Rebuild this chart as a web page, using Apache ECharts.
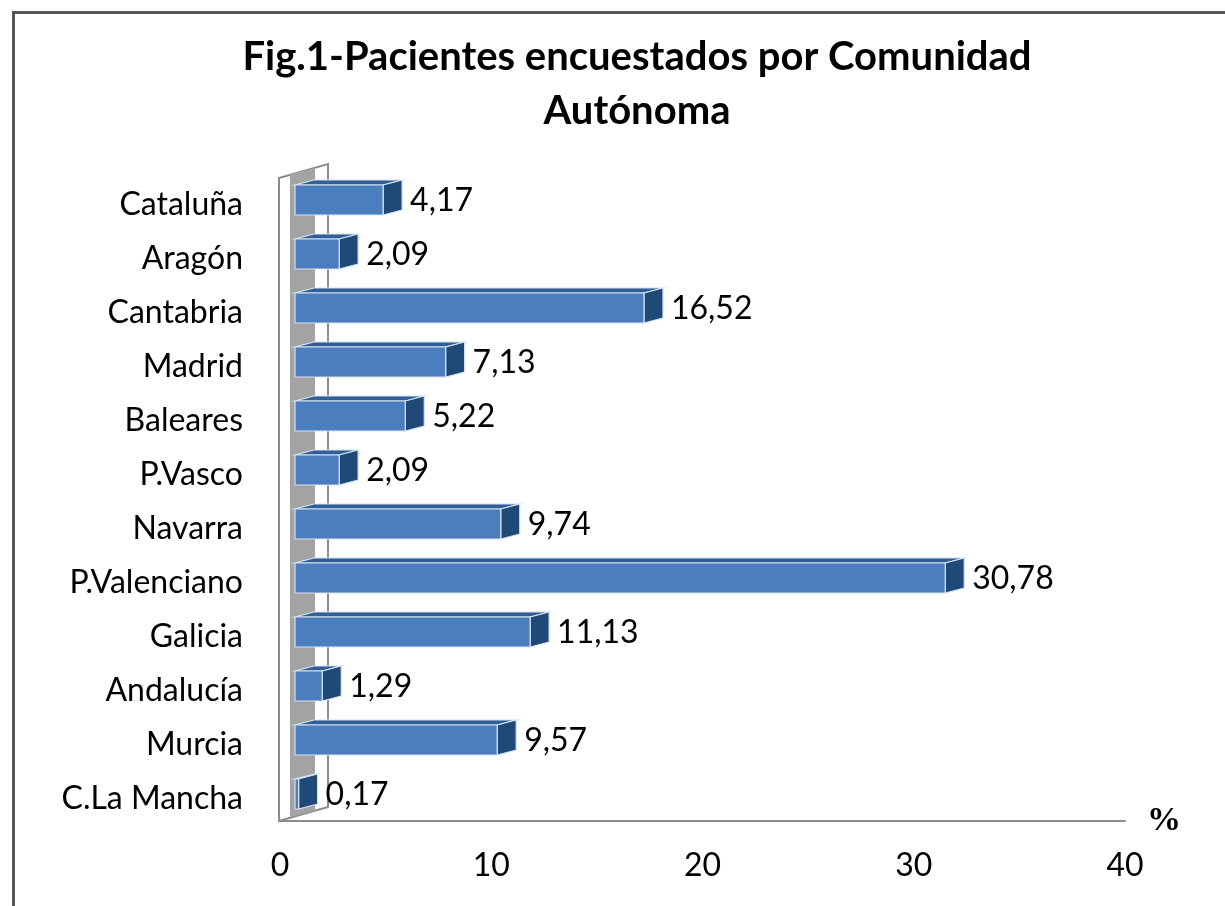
<!DOCTYPE html>
<html>
<head>
<meta charset="utf-8">
<script src="https://cdn.jsdelivr.net/npm/echarts@6/dist/echarts.min.js"></script>
<style>
  html, body { margin: 0; padding: 0; background: #fff; }
  #wrap { position: relative; width: 1225px; height: 906px; overflow: hidden; }
  #frame { position: absolute; left: 12px; top: 11px; width: 1300px; height: 1000px;
           border-left: 3px solid #555; border-top: 3px solid #555; }
  #chart { position: absolute; left: 0; top: 0; width: 1225px; height: 906px; }
</style>
</head>
<body>
<div id="wrap">
  <div id="frame"></div>
  <div id="chart"></div>
</div>
<script>
// Fig.1 - pacientes encuestados por comunidad (%)
const comunidades = ['Cataluña', 'Aragón', 'Cantabria', 'Madrid', 'Baleares', 'P.Vasco',
    'Navarra', 'P.Valenciano', 'Galicia', 'Andalucía', 'Murcia', 'C.La Mancha'];
const porcentajes = [4.17, 2.09, 16.52, 7.13, 5.22, 2.09, 9.74, 30.78, 11.13, 1.29, 9.57, 0.17];
const ejeX = [0, 10, 20, 30, 40];

const FONT = 'Lato, "Open Sans", sans-serif';

// geometria de las barras 3D
const FRONT_SHIFT = 15;   // desplazamiento de la cara frontal respecto al eje
const DEPTH_X = 19;
const DEPTH_Y = -5;
const BAR_H = 30;

function fmt(v) {
    return v.toFixed(2).replace('.', ',');
}

// pared lateral izquierda (estilo Excel 3D)
function renderWall(params, api) {
    const cs = params.coordSys;
    const x0 = cs.x;
    const top = cs.y;
    const bot = cs.y + cs.height;
    return {
        type: 'group',
        children: [
            {
                type: 'polygon',
                shape: { points: [[x0 - 1, top + 5], [x0 + 48, top - 9], [x0 + 48, bot - 14], [x0 - 1, bot]] },
                style: { fill: '#fff', stroke: '#8c8c8c', lineWidth: 2 }
            },
            {
                type: 'polygon',
                shape: { points: [[x0 + 10, top + 1], [x0 + 35, top - 5], [x0 + 35, bot - 10], [x0 + 10, bot - 4]] },
                style: { fill: '#a3a3a3' }
            }
        ]
    };
}

function renderBar(params, api) {
    const v = api.value(0);
    const idx = api.value(1);
    const start = api.coord([0, idx]);
    const end = api.coord([v, idx]);
    const xa = start[0] + FRONT_SHIFT;
    const xb = end[0] + FRONT_SHIFT;
    const yt = start[1] - BAR_H / 2;
    const yb = start[1] + BAR_H / 2;
    const edge = { stroke: '#d6e2f2', lineWidth: 1.2 };
    return {
        type: 'group',
        children: [
            {
                type: 'polygon',
                shape: { points: [[xa, yt], [xb, yt], [xb + DEPTH_X, yt + DEPTH_Y], [xa + DEPTH_X, yt + DEPTH_Y]] },
                style: Object.assign({ fill: '#2f5f95' }, edge)
            },
            {
                type: 'polygon',
                shape: { points: [[xb, yt], [xb + DEPTH_X, yt + DEPTH_Y], [xb + DEPTH_X, yb + DEPTH_Y], [xb, yb]] },
                style: Object.assign({ fill: '#1f4a78' }, edge)
            },
            {
                type: 'rect',
                shape: { x: xa, y: yt, width: xb - xa, height: BAR_H },
                style: Object.assign({ fill: '#4a7ebe' }, edge)
            },
            {
                type: 'text',
                x: xb + DEPTH_X + 8,
                y: start[1] + 1,
                style: {
                    text: fmt(v),
                    fill: '#000',
                    font: '32px ' + FONT,
                    verticalAlign: 'middle',
                    align: 'left'
                }
            }
        ]
    };
}

const chart = echarts.init(document.getElementById('chart'));

chart.setOption({
    backgroundColor: 'transparent',
    animation: false,
    title: {
        text: 'Fig.1-Pacientes encuestados por Comunidad\nAutónoma',
        left: 632,
        textAlign: 'center',
        top: 25,
        textStyle: {
            fontFamily: FONT,
            fontSize: 40,
            fontWeight: 'bold',
            lineHeight: 54,
            color: '#000'
        }
    },
    grid: { left: 280, top: 173, width: 845, height: 648 },
    xAxis: {
        type: 'value',
        min: ejeX[0],
        max: ejeX[ejeX.length - 1],
        interval: 10,
        name: '%',
        nameLocation: 'end',
        nameGap: 22,
        nameTextStyle: {
            fontFamily: '"Liberation Serif", serif',
            fontWeight: 'bold',
            fontSize: 34,
            color: '#000',
            verticalAlign: 'middle'
        },
        axisLine: { show: true, lineStyle: { color: '#8c8c8c', width: 2 } },
        axisTick: { show: false },
        splitLine: { show: false },
        axisLabel: {
            margin: 29,
            fontFamily: FONT,
            fontSize: 32,
            color: '#000'
        }
    },
    yAxis: {
        type: 'category',
        data: comunidades,
        inverse: true,
        axisLine: { show: false },
        axisTick: { show: false },
        axisLabel: {
            margin: 37,
            formatter: v => '{c|' + v + '}',
            rich: {
                c: {
                    fontFamily: FONT,
                    fontSize: 32,
                    color: '#000',
                    padding: [10, 0, 0, 0]
                }
            }
        }
    },
    series: [
        {
            type: 'custom',
            renderItem: renderWall,
            data: [[0, 0]],
            silent: true,
            z: 1
        },
        {
            type: 'custom',
            renderItem: renderBar,
            encode: { x: 0, y: 1 },
            data: porcentajes.map((v, i) => [v, i]),
            z: 2
        }
    ]
});
</script>
</body>
</html>
